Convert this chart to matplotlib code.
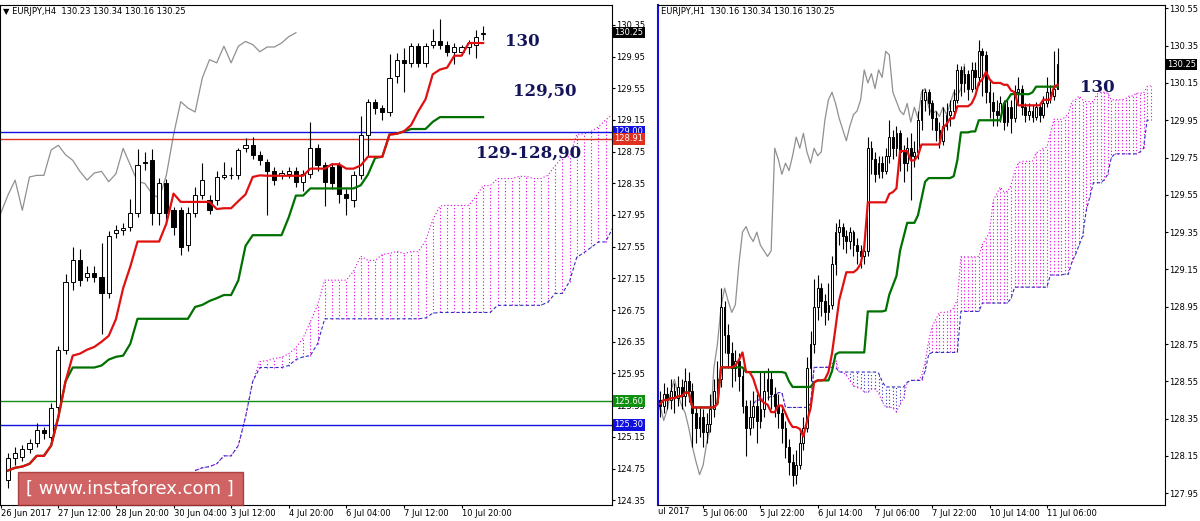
import numpy as np
import pandas as pd
import matplotlib
matplotlib.use("Agg")
import matplotlib.pyplot as plt
from matplotlib.patches import Rectangle

# ---------------- data: left panel (EURJPY H4) ----------------
h4_open = [124.60,124.88,124.90,125.00,125.07,125.24,125.15,125.53,126.24,127.11,127.38,127.17,127.22,127.17,126.96,127.72,
           127.76,127.80,127.97,128.62,128.64,127.97,128.35,128.01,128.01,127.57,127.97,128.20,128.14,128.14,128.43,128.45,
           128.45,128.79,128.83,128.71,128.62,128.50,128.45,128.47,128.50,128.37,128.47,128.79,128.58,128.56,128.58,128.22,
           128.14,128.45,128.96,129.38,129.30,129.25,129.70,129.91,129.87,130.08,129.87,130.10,130.14,130.10,130.01,130.01,
           130.07,130.10,130.23]
h4_close = [124.88,124.95,125.00,125.07,125.24,125.20,125.51,126.25,127.11,127.38,127.13,127.22,127.17,126.96,127.68,127.76,
            127.78,127.97,128.58,128.60,127.97,128.35,127.97,127.80,127.55,127.97,128.20,128.39,128.01,128.43,128.45,128.45,
            128.77,128.83,128.71,128.64,128.50,128.39,128.48,128.50,128.37,128.47,128.79,128.58,128.37,128.35,128.22,128.16,
            128.45,128.96,129.38,129.30,129.25,129.68,129.91,129.87,130.08,129.87,130.08,130.14,130.10,130.01,130.07,130.07,
            130.12,130.20,130.25]
h4_high = [124.95,125.02,125.05,125.12,125.32,125.28,125.58,126.30,127.20,127.55,127.52,127.30,127.30,127.60,127.75,127.82,
           127.85,128.15,128.78,128.75,128.78,128.42,128.40,128.05,128.05,128.05,128.30,128.60,128.20,128.50,128.62,128.55,
           128.80,128.92,128.94,128.76,128.66,128.56,128.52,128.56,128.56,128.52,129.12,128.84,128.62,128.60,128.62,128.28,
           128.50,129.20,129.42,129.42,129.34,129.98,130.00,130.06,130.12,130.12,130.12,130.30,130.42,130.14,130.12,130.10,
           130.16,130.28,130.34]
h4_low = [124.50,124.80,124.85,124.95,125.02,125.12,125.10,125.45,126.20,127.00,127.05,127.12,127.10,126.45,126.90,127.66,
          127.70,127.75,127.92,128.52,127.82,127.82,127.85,127.70,127.45,127.50,127.92,128.15,127.96,128.08,128.40,128.40,
          128.40,128.74,128.66,128.58,127.95,128.33,128.40,128.42,128.30,128.25,128.42,128.50,128.06,128.28,128.10,127.95,
          128.05,128.40,128.70,129.22,129.15,129.20,129.62,129.50,129.82,129.82,129.82,130.06,130.05,129.96,129.85,129.97,
          129.98,129.93,130.16]
h4_xticks = [-1, 7, 15, 23, 31, 39, 47, 55, 63]
h4_xlabels = ["26 Jun 2017", "27 Jun 12:00", "28 Jun 20:00", "30 Jun 04:00", "3 Jul 12:00",
              "4 Jul 20:00", "6 Jul 04:00", "7 Jul 12:00", "10 Jul 20:00"]
h4_levels = [129.00, 128.91, 125.60, 125.30]
h4_level_colors = ["#1010e0", "#e03020", "#109010", "#1010e0"]

# ---------------- data: right panel (EURJPY H1) ----------------
h1_close = [128.42,128.48,128.45,128.50,128.46,128.52,128.47,128.55,128.50,128.38,128.30,128.36,128.28,128.32,128.40,128.50,
            128.56,128.95,128.80,128.70,128.62,128.66,128.58,128.42,128.30,128.36,128.42,128.34,128.40,128.50,128.56,128.48,
            128.42,128.38,128.30,128.20,128.12,128.05,128.10,128.22,128.30,128.62,128.75,128.95,129.05,128.98,128.92,128.96,
            129.18,129.35,129.38,129.33,129.30,129.35,129.28,129.25,129.22,129.25,129.80,129.74,129.66,129.72,129.68,129.76,
            129.86,129.80,129.88,129.78,129.72,129.80,129.76,129.78,129.95,130.06,130.10,130.04,129.96,129.90,129.84,129.92,
            129.98,130.00,130.06,130.22,130.15,130.20,130.12,130.22,130.18,130.32,130.30,130.10,130.05,130.00,129.98,130.04,
            129.94,130.02,129.96,130.10,130.12,130.02,129.98,130.00,129.97,130.02,129.98,130.04,130.10,130.08,130.12,130.25]
h1_high = [128.50,128.54,128.52,128.56,128.54,128.58,128.56,128.62,128.60,128.54,128.42,128.42,128.40,128.38,128.48,128.56,
           128.66,129.05,128.98,128.86,128.76,128.72,128.70,128.62,128.45,128.45,128.50,128.48,128.60,128.60,128.62,128.60,
           128.52,128.48,128.42,128.34,128.24,128.16,128.18,128.28,128.36,128.68,128.82,129.10,129.12,129.08,129.02,129.08,
           129.22,129.40,129.42,129.40,129.36,129.38,129.36,129.32,129.28,129.30,129.86,129.84,129.78,129.76,129.76,129.80,
           129.95,129.90,129.92,129.90,129.82,129.86,129.88,129.84,130.00,130.12,130.12,130.12,130.06,130.00,129.94,130.02,
           130.04,130.06,130.12,130.25,130.24,130.24,130.22,130.26,130.26,130.38,130.34,130.32,130.16,130.10,130.06,130.08,
           130.06,130.06,130.06,130.14,130.18,130.14,130.04,130.04,130.03,130.05,130.04,130.08,130.18,130.14,130.32,130.34]
h1_low = [128.36,128.38,128.40,128.40,128.38,128.42,128.40,128.42,128.44,128.20,128.22,128.25,128.20,128.22,128.28,128.36,
          128.48,128.52,128.70,128.62,128.52,128.55,128.50,128.38,128.15,128.26,128.30,128.22,128.30,128.36,128.45,128.40,
          128.36,128.30,128.22,128.14,128.05,127.99,128.00,128.08,128.18,128.28,128.55,128.70,128.88,128.90,128.85,128.88,
          128.94,129.12,129.28,129.26,129.24,129.26,129.22,129.18,129.16,129.18,129.22,129.66,129.62,129.64,129.64,129.66,
          129.72,129.74,129.76,129.68,129.62,129.68,129.52,129.70,129.74,129.90,130.00,129.98,129.90,129.84,129.80,129.82,
          129.90,129.92,129.96,130.04,130.08,130.10,130.06,130.10,130.12,130.14,130.08,130.04,129.96,129.92,129.92,129.94,
          129.90,129.92,129.88,129.94,130.04,129.98,129.94,129.95,129.94,129.95,129.94,129.96,130.02,130.04,130.06,130.16]
h1_first_open = 128.45
h1_xticks = [12, 28, 44, 60, 76, 92, 108]
h1_xlabels = ["5 Jul 06:00", "5 Jul 22:00", "6 Jul 14:00", "7 Jul 06:00", "7 Jul 22:00", "10 Jul 14:00", "11 Jul 06:00"]

NAVY = "#14145a"
FS = 6

def ichimoku(o, h, l, c):
    H = pd.Series(h); L = pd.Series(l); C = pd.Series(c)
    tenkan = (H.rolling(9, min_periods=1).max() + L.rolling(9, min_periods=1).min()) / 2
    kijun = (H.rolling(26, min_periods=1).max() + L.rolling(26, min_periods=1).min()) / 2
    spanA = (tenkan + kijun) / 2
    spanB = (H.rolling(52, min_periods=1).max() + L.rolling(52, min_periods=1).min()) / 2
    return tenkan.values, kijun.values, spanA.values, spanB.values, C.values

def draw_panel(ax, o, h, l, c, width, wick_lw):
    n = len(c)
    x = np.arange(n)
    tenkan, kijun, sa, sb, C = ichimoku(o, h, l, c)
    xs = x + 26
    for i in range(n):
        lo, hi = min(sa[i], sb[i]), max(sa[i], sb[i])
        col = "#e000e0" if sa[i] >= sb[i] else "#3030c0"
        ax.vlines(xs[i], lo, hi, colors=col, linestyles=(0, (1, 2)), lw=0.8)
    ax.plot(xs, sa, color="#e000e0", ls=(0, (1, 2)), lw=0.8)
    ax.plot(xs, sb, color="#3030c0", ls=(0, (3, 2)), lw=0.8)
    ax.plot(x - 26, C, color="#909090", lw=0.9)
    for i in range(n):
        ax.vlines(x[i], l[i], h[i], colors="black", lw=wick_lw, zorder=3)
        bull = c[i] >= o[i]
        bottom = min(o[i], c[i]); height = max(abs(c[i] - o[i]), 0.008)
        ax.bar(x[i], height, width=width, bottom=bottom, color="white" if bull else "black",
               edgecolor="black", linewidth=0.7, zorder=4)
    ax.plot(x, kijun, color="#007000", lw=1.6, zorder=5)
    ax.plot(x, tenkan, color="#e01010", lw=1.6, zorder=6)

fig = plt.figure(figsize=(12, 5.21), dpi=100)
fig.patch.set_facecolor("white")

# ---------- left ----------
axL = fig.add_axes([0.0, 16/521, 612/1200, 500/521])
draw_panel(axL, h4_open, h4_high, h4_low, h4_close, 0.6, 0.8)
axL.set_xlim(-1.1, 83.9)
axL.set_ylim(124.29, 130.60)
for lev, col in zip(h4_levels, h4_level_colors):
    axL.axhline(lev, color=col, lw=1.0, zorder=2)
axL.yaxis.tick_right()
yt = np.round(np.arange(124.35, 130.36, 0.40), 2)
axL.set_yticks(yt)
axL.set_yticklabels([f"{v:.2f}" for v in yt], fontsize=FS)
axL.set_xticks(h4_xticks)
axL.set_xticklabels(h4_xlabels, fontsize=FS, ha="left")
axL.tick_params(axis="both", length=2, pad=1)
for lev, col in zip(h4_levels, h4_level_colors):
    axL.text(1.004, (lev - 124.29) / (130.60 - 124.29), f"{lev:.2f}", transform=axL.transAxes,
             fontsize=FS, color="white", va="center", ha="left",
             bbox=dict(boxstyle="square,pad=0.15", fc=col, ec="none"))
axL.text(1.004, (130.25 - 124.29) / (130.60 - 124.29), "130.25", transform=axL.transAxes,
         fontsize=FS, color="white", va="center", ha="left",
         bbox=dict(boxstyle="square,pad=0.15", fc="black", ec="none"))
axL.text(0.005, 0.995, "\u25bc EURJPY,H4  130.23 130.34 130.16 130.25", transform=axL.transAxes,
         fontsize=FS, va="top", ha="left")
for txt, px, py in [("130", 505, 42), ("129,50", 513, 91), ("129-128,90", 476, 153)]:
    fig.text(px/1200, 1 - py/521, txt, fontsize=12, color=NAVY, family="DejaVu Serif",
             fontweight="bold", va="center", ha="left")

# ---------- right ----------
h1_open = [h1_first_open] + h1_close[:-1]
axR = fig.add_axes([658/1200, 16/521, 507/1200, 500/521])
draw_panel(axR, h1_open, h1_high, h1_low, h1_close, 0.5, 0.8)
axR.set_xlim(-0.6, 141)
axR.set_ylim(127.887, 130.568)
axR.yaxis.tick_right()
yt = np.round(np.arange(127.95, 130.56, 0.20), 2)
axR.set_yticks(yt)
axR.set_yticklabels([f"{v:.2f}" for v in yt], fontsize=FS)
axR.set_xticks(h1_xticks)
axR.set_xticklabels(h1_xlabels, fontsize=FS, ha="left")
axR.tick_params(axis="both", length=2, pad=1)
axR.text(0.0, -0.004, "ul 2017", transform=axR.transAxes, fontsize=FS, va="top", ha="left")
axR.spines["left"].set_color("#1010e0")
axR.spines["left"].set_linewidth(1.5)
axR.text(1.004, (130.25 - 127.887) / (130.568 - 127.887), "130.25", transform=axR.transAxes,
         fontsize=FS, color="white", va="center", ha="left",
         bbox=dict(boxstyle="square,pad=0.15", fc="black", ec="none"))
axR.text(0.005, 0.995, "EURJPY,H1  130.16 130.34 130.16 130.25", transform=axR.transAxes,
         fontsize=FS, va="top", ha="left")
fig.text(1080/1200, 1 - 88/521, "130", fontsize=12, color=NAVY, family="DejaVu Serif",
         fontweight="bold", va="center", ha="left")

# watermark
fig.patches.append(Rectangle((18/1200, 1 - 505/521), 225/1200, 33/521, transform=fig.transFigure,
                             fc="#c84848", ec="#a03030", alpha=0.85, zorder=10))
fig.text(130/1200, 1 - 489/521, "[ www.instaforex.com ]", fontsize=13, color="white",
         ha="center", va="center", zorder=11)

fig.savefig("out.png", dpi=100)
